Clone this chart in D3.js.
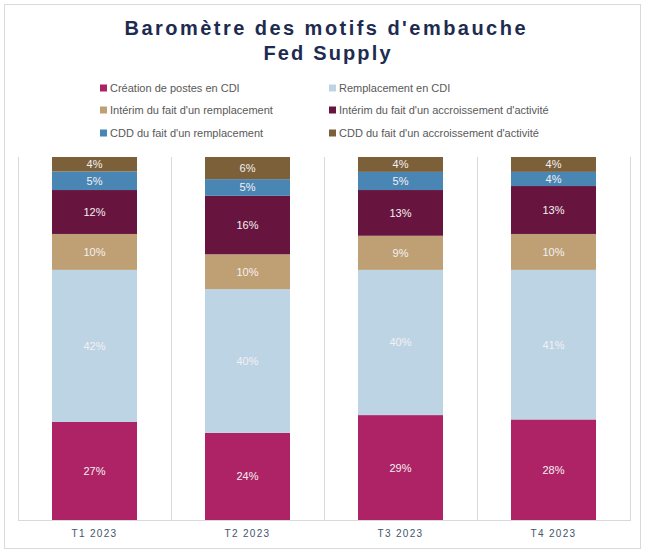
<!DOCTYPE html>
<html>
<head>
<meta charset="utf-8">
<script src="https://cdn.jsdelivr.net/npm/d3@7"></script>
<style>
  html, body { margin: 0; padding: 0; background: #fff; }
  svg { display: block; }
</style>
</head>
<body>
<svg id="chart" width="650" height="554"></svg>
<script>
// ---- Data ----
const titleLines = ["Baromètre des motifs d'embauche", "Fed Supply"];
const categories = ["T1 2023", "T2 2023", "T3 2023", "T4 2023"];
const seriesNames = [
  "Création de postes en CDI",
  "Remplacement en CDI",
  "Intérim du fait d'un remplacement",
  "Intérim du fait d'un accroissement d'activité",
  "CDD du fait d'un remplacement",
  "CDD du fait d'un accroissement d'activité"
];
const seriesColors = ["#AD2366", "#BDD4E5", "#BFA074", "#67153F", "#4A86B4", "#7B6039"];
// values in % per category, same order as seriesNames
const creationCDI      = [27.0, 24.0, 28.9, 27.7];
const remplacementCDI  = [41.9, 39.6, 40.0, 41.2];
const interimRemp      = [9.9, 9.6, 9.4, 9.9];
const interimAccr      = [12.1, 16.1, 12.6, 13.2];
const cddRemp          = [5.1, 4.6, 5.0, 3.9];
const cddAccr          = [4.0, 6.1, 4.1, 4.1];
const seriesValues = [creationCDI, remplacementCDI, interimRemp, interimAccr, cddRemp, cddAccr];

// ---- Build ----
const svg = d3.select("#chart");
const plot = { left: 18, right: 630, top: 157, bottom: 520 };

// outer frame
svg.append("rect")
  .attr("x", 4.5).attr("y", 4.5)
  .attr("width", 636).attr("height", 544)
  .attr("fill", "#fff").attr("stroke", "#D9D9D9").attr("stroke-width", 1);

// title
const titleG = svg.append("g");
titleG.append("text")
  .attr("x", 325).attr("y", 35)
  .attr("text-anchor", "middle")
  .attr("textLength", 401).attr("lengthAdjust", "spacing")
  .style("font-family", "Arial, 'Liberation Sans', sans-serif")
  .style("font-weight", "bold").style("font-size", "20px")
  .attr("fill", "#1E2B50")
  .text(titleLines[0]);
titleG.append("text")
  .attr("x", 327).attr("y", 60)
  .attr("text-anchor", "middle")
  .attr("textLength", 127).attr("lengthAdjust", "spacing")
  .style("font-family", "Arial, 'Liberation Sans', sans-serif")
  .style("font-weight", "bold").style("font-size", "20px")
  .attr("fill", "#1E2B50")
  .text(titleLines[1]);

// legend
const legendCols = [100, 329];
const legendRows = [88, 110, 133];
const legend = svg.append("g");
seriesNames.forEach((name, i) => {
  const cx = legendCols[i % 2];
  const cy = legendRows[Math.floor(i / 2)];
  legend.append("rect")
    .attr("x", cx).attr("y", cy - 3.5)
    .attr("width", 7).attr("height", 7)
    .attr("fill", seriesColors[i]);
  legend.append("text")
    .attr("x", cx + 10).attr("y", cy + 4)
    .style("font-family", "Arial, 'Liberation Sans', sans-serif")
    .style("font-size", "11px")
    .attr("fill", "#595959")
    .text(name);
});

// scales
const x = d3.scaleBand().domain(categories).range([plot.left, plot.right]).paddingInner(0).paddingOuter(0);
const y = d3.scaleLinear().domain([0, 100]).range([plot.bottom, plot.top]);
const barW = 85;
const barOff = (x.bandwidth() - barW) / 2;

// vertical gridlines at band boundaries
const boundaries = categories.map(c => x(c)).concat([plot.right]);
svg.append("g").selectAll("line").data(boundaries).join("line")
  .attr("x1", d => d + 0.5).attr("x2", d => d + 0.5)
  .attr("y1", plot.top).attr("y2", plot.bottom)
  .attr("stroke", "#D9D9D9").attr("stroke-width", 1);

// stacked data
const table = categories.map((c, ci) => {
  const row = { cat: c };
  seriesNames.forEach((s, si) => row[s] = seriesValues[si][ci]);
  return row;
});
const stack = d3.stack().keys(seriesNames)(table);

const bars = svg.append("g");
stack.forEach((layer, si) => {
  const g = bars.append("g").attr("fill", seriesColors[si]);
  g.selectAll("rect").data(layer).join("rect")
    .attr("x", d => x(d.data.cat) + barOff)
    .attr("width", barW)
    .attr("y", d => y(d[1]))
    .attr("height", d => y(d[0]) - y(d[1]));
  g.selectAll("text").data(layer).join("text")
    .attr("x", d => x(d.data.cat) + x.bandwidth() / 2)
    .attr("y", d => (y(d[0]) + y(d[1])) / 2)
    .attr("dy", "0.36em")
    .attr("text-anchor", "middle")
    .style("font-family", "Arial, 'Liberation Sans', sans-serif")
    .style("font-size", "11px")
    .attr("fill", "#F4F0F2")
    .text(d => Math.round(d[1] - d[0]) + "%");
});

// x axis
const axis = svg.append("g")
  .attr("transform", `translate(0,${plot.bottom})`)
  .call(d3.axisBottom(x).tickSize(0).tickPadding(10));
axis.select(".domain").remove();
svg.append("line")
  .attr("x1", plot.left).attr("x2", plot.right + 1)
  .attr("y1", plot.bottom + 0.5).attr("y2", plot.bottom + 0.5)
  .attr("stroke", "#D9D9D9").attr("stroke-width", 1);
axis.selectAll("text")
  .style("font-family", "Arial, 'Liberation Sans', sans-serif")
  .style("font-size", "10px")
  .style("letter-spacing", "1.3px")
  .attr("fill", "#44546A");
</script>
</body>
</html>
